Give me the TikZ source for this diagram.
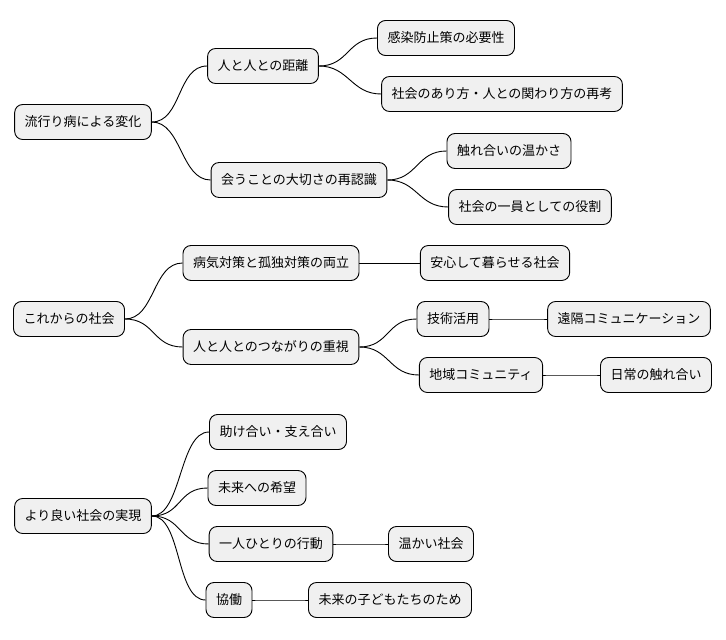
\documentclass[tikz,border=0pt]{standalone}
\usepackage{fontspec}
\setmainfont{Noto Sans CJK JP}
\begin{document}
\begin{tikzpicture}[x=1pt,y=-1pt,
 box/.style={draw=black,line width=0.9pt,fill=black!6,rounded corners=8pt,minimum height=35pt,inner xsep=10pt,font=\fontsize{13}{15}\selectfont},
 ln/.style={line width=0.9pt}]
\useasboundingbox (0,0) rectangle (726,640);
\node[box] (r1) at (83,122) {流行り病による変化};
\node[box] (a1) at (263,66) {人と人との距離};
\node[box] (a11) at (446,38) {感染防止策の必要性};
\node[box] (a12) at (502,94) {社会のあり方・人との関わり方の再考};
\node[box] (a2) at (299,180) {会うことの大切さの再認識};
\node[box] (a21) at (509,151) {触れ合いの温かさ};
\node[box] (a22) at (530,207) {社会の一員としての役割};
\node[box] (r2) at (69,319) {これからの社会};
\node[box] (b1) at (271,263) {病気対策と孤独対策の両立};
\node[box] (b11) at (495,263) {安心して暮らせる社会};
\node[box] (b2) at (271,347) {人と人とのつながりの重視};
\node[box] (b21) at (453,319) {技術活用};
\node[box] (b211) at (629,319) {遠隔コミュニケーション};
\node[box] (b22) at (481,375) {地域コミュニティ};
\node[box] (b221) at (656,375) {日常の触れ合い};
\node[box] (r3) at (83,516) {より良い社会の実現};
\node[box] (c1) at (278,432) {助け合い・支え合い};
\node[box] (c2) at (257,488) {未来への希望};
\node[box] (c3) at (271,544) {一人ひとりの行動};
\node[box] (c31) at (431,544) {温かい社会};
\node[box] (c4) at (229,600) {協働};
\node[box] (c41) at (390,600) {未来の子どもたちのため};
\foreach \p/\c in {r1/a1,r1/a2,a1/a11,a1/a12,a2/a21,a2/a22,r2/b1,r2/b2,b1/b11,b2/b21,b2/b22,b21/b211,b22/b221,r3/c1,r3/c2,r3/c3,r3/c4,c3/c31,c4/c41}
 \draw[ln] (\p.east) .. controls +(30,0) and +(-30,0) .. (\c.west);
\end{tikzpicture}
\end{document}
